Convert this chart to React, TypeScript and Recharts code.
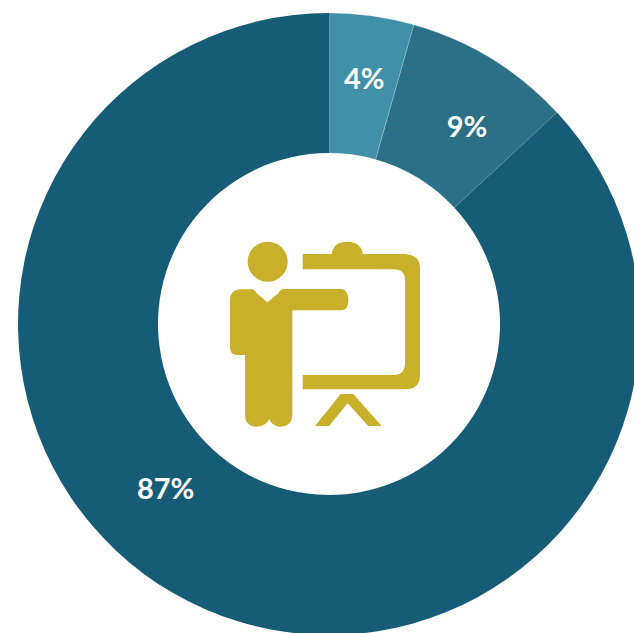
import React from "react";
import { PieChart, Pie, Cell } from "recharts";

const sliceNames = ["Small", "Medium", "Large"];
const sliceValues = [4.4, 8.7, 86.9];
const sliceColors = ["#4190aa", "#2b7087", "#175c77"];

// hand placement of the percent labels, relative to the middle of each ring slice
const labelNudges = [
  [2, -8],
  [12, 7],
  [-67, -57],
];

const chartData = sliceNames.map((name, i) => ({ name, value: sliceValues[i] }));

const RAD = Math.PI / 180;

const renderPercent = (props: any) => {
  const { cx, cy, midAngle, innerRadius, outerRadius, index, value } = props;
  const r = (innerRadius + outerRadius) / 2;
  const x = cx + r * Math.cos(-midAngle * RAD) + labelNudges[index][0];
  const y = cy + r * Math.sin(-midAngle * RAD) + labelNudges[index][1];
  return (
    <text
      x={x}
      y={y}
      fill="#ffffff"
      fontFamily="Lato, sans-serif"
      fontWeight={700}
      fontSize={29}
      textAnchor="middle"
      dominantBaseline="central"
    >
      {Math.round(value)}%
    </text>
  );
};

// presenter at a board, drawn in the ring's hole
const PresenterIcon = () => (
  <svg
    width={210}
    height={210}
    viewBox="0 0 630 630"
    style={{ position: "absolute", left: 220, top: 230 }}
  >
    <g fill="#c9b02b">
      <circle cx={143} cy={95} r={60} />
      <path d="M60 178 H97 Q105 180 110 190 L142 217 L175 190 Q180 178 190 177 H365 Q385 180 385 210 Q385 240 365 241 H217 V555 Q215 590 180 590 Q155 588 148 567 Q140 588 110 590 Q77 590 75 555 V375 H50 Q30 375 30 350 V210 Q30 180 60 178 Z" />
      <path d="M248 72 H335 Q340 35 382 35 Q425 37 428 72 H555 Q600 75 600 115 V435 Q600 478 555 478 H248 V435 H520 Q555 435 555 400 V150 Q555 118 520 118 H248 Z" />
      <path d="M285 588 L362 492 H400 L485 588 H445 L383 520 L327 588 Z" />
    </g>
  </svg>
);

export default function App() {
  return (
    <div style={{ position: "absolute", left: 0, top: 0, width: 634, height: 633, overflow: "hidden", background: "#fff" }}>
      <PieChart width={634} height={633} margin={{ top: 0, right: 0, bottom: 0, left: 0 }}>
        <Pie
          data={chartData}
          dataKey="value"
          cx={329}
          cy={324}
          innerRadius={171}
          outerRadius={311}
          startAngle={90}
          endAngle={-270}
          paddingAngle={0}
          label={renderPercent}
          labelLine={false}
          isAnimationActive={false}
        >
          {chartData.map((d, i) => (
            <Cell
              key={d.name}
              fill={sliceColors[i]}
              stroke={i === 2 ? "none" : "#ffffff"}
              strokeOpacity={0.2}
              strokeWidth={1}
            />
          ))}
        </Pie>
      </PieChart>
      <PresenterIcon />
    </div>
  );
}
